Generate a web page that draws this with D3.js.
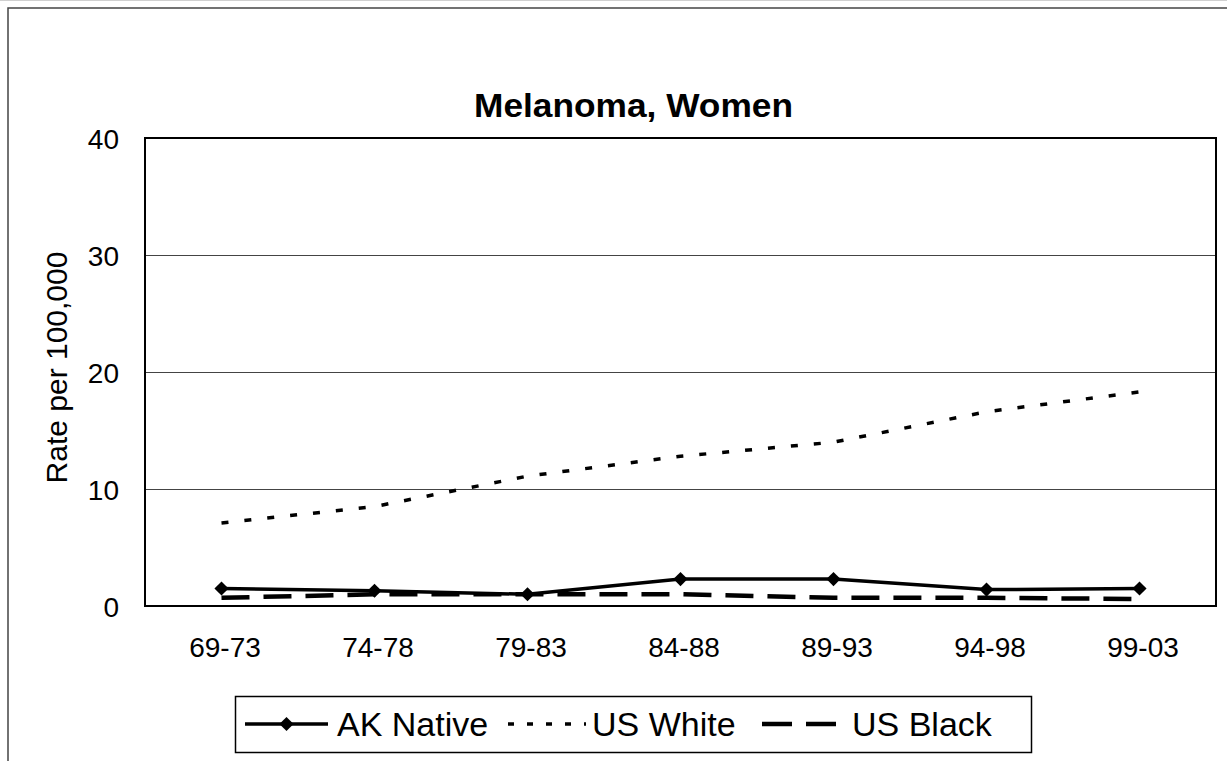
<!DOCTYPE html>
<html>
<head>
<meta charset="utf-8">
<script src="https://cdn.jsdelivr.net/npm/d3@7"></script>
<style>
  html, body { margin: 0; padding: 0; background: #fff; }
  svg { display: block; font-family: "Liberation Sans", Arial, sans-serif; }
</style>
</head>
<body>
<svg id="chart" width="1227" height="761"></svg>
<script>
const categories = ["69-73", "74-78", "79-83", "84-88", "89-93", "94-98", "99-03"];
const akNative = [1.5, 1.3, 1.0, 2.3, 2.3, 1.4, 1.5];
const usWhite = [7.1, 8.5, 11.1, 12.8, 14.0, 16.6, 18.3];
const usBlack = [0.7, 1.0, 1.0, 1.0, 0.7, 0.7, 0.6];
const yTicks = [0, 10, 20, 30, 40];
const seriesNames = ["AK Native", "US White", "US Black"];
const titleText = "Melanoma, Women";
const yLabelText = "Rate per 100,000";

const svg = d3.select("#chart");

// outer frame
svg.append("line").attr("x1", 0).attr("x2", 1227).attr("y1", 0.5).attr("y2", 0.5)
  .attr("stroke", "#d0d0d0").attr("stroke-width", 1);
svg.append("rect").attr("x", 8).attr("y", 8).attr("width", 1300).attr("height", 800)
  .attr("fill", "#fff").attr("stroke", "#444").attr("stroke-width", 1.5);

const plot = { left: 145, right: 1216, top: 138, bottom: 606 };

const x = d3.scalePoint().domain(categories).range([plot.left, plot.right]).padding(0.5);
const y = d3.scaleLinear().domain([0, 40]).range([plot.bottom, plot.top]);

// gridlines
svg.append("g").selectAll("line").data(yTicks.filter(d => d > 0 && d < 40)).join("line")
  .attr("x1", plot.left).attr("x2", plot.right)
  .attr("y1", d => Math.round(y(d)) + 0.5).attr("y2", d => Math.round(y(d)) + 0.5)
  .attr("stroke", "#444").attr("stroke-width", 1);

// plot border
svg.append("rect").attr("x", plot.left).attr("y", plot.top)
  .attr("width", plot.right - plot.left).attr("height", plot.bottom - plot.top)
  .attr("fill", "none").attr("stroke", "#000").attr("stroke-width", 2);

// y axis
const yAxis = svg.append("g").attr("transform", `translate(${plot.left},0)`)
  .call(d3.axisLeft(y).tickValues(yTicks).tickSize(0).tickPadding(26));
yAxis.select(".domain").remove();
yAxis.selectAll("text").attr("font-size", 28).attr("fill", "#000")
  .attr("font-family", "Liberation Sans, Arial, sans-serif").attr("dy", "0.36em");

// x axis
const xAxis = svg.append("g").attr("transform", `translate(0,${plot.bottom})`)
  .call(d3.axisBottom(x).tickSize(0).tickPadding(31));
xAxis.select(".domain").remove();
xAxis.selectAll("text").attr("font-size", 28).attr("fill", "#000").attr("dx", 3)
  .attr("font-family", "Liberation Sans, Arial, sans-serif");

// title
svg.append("text").attr("x", 633.5).attr("y", 117).attr("text-anchor", "middle")
  .attr("font-size", 33).attr("font-weight", "bold")
  .attr("textLength", 319).attr("lengthAdjust", "spacingAndGlyphs").text(titleText);

// y label
svg.append("text").attr("transform", "translate(67,367.5) rotate(-90)")
  .attr("text-anchor", "middle").attr("font-size", 30).text(yLabelText);

const line = d3.line().x((d, i) => x(categories[i])).y(d => y(d));

const styles = [
  { dash: null, width: 3.5 },
  { dash: "7,16", width: 3.5 },
  { dash: "28,14", width: 4.5 }
];
const data = [akNative, usWhite, usBlack];

[2, 1, 0].forEach(k => {
  svg.append("path").datum(data[k]).attr("d", line)
    .attr("fill", "none").attr("stroke", "#000")
    .attr("stroke-width", styles[k].width)
    .attr("stroke-dasharray", styles[k].dash);
});

const diamond = d3.symbol().type(d3.symbolSquare).size(100);
svg.append("g").selectAll("path").data(akNative).join("path")
  .attr("d", diamond)
  .attr("transform", (d, i) => `translate(${x(categories[i])},${y(d)}) rotate(45)`)
  .attr("fill", "#000");

// legend
const lg = svg.append("g");
lg.append("rect").attr("x", 235.5).attr("y", 696.5).attr("width", 796).attr("height", 56)
  .attr("fill", "#fff").attr("stroke", "#000").attr("stroke-width", 1.5);
const legendItems = [
  { sx1: 245, sx2: 328, tx: 337 },
  { sx1: 508, sx2: 586, tx: 592 },
  { sx1: 762, sx2: 842, tx: 852 }
];
const ly = 724;
legendItems.forEach((it, k) => {
  lg.append("line").attr("x1", it.sx1).attr("x2", it.sx2).attr("y1", ly).attr("y2", ly)
    .attr("stroke", "#000").attr("stroke-width", styles[k].width)
    .attr("stroke-dasharray", k === 1 ? "6,13" : (k === 2 ? "30,14" : null));
  if (k === 0) {
    lg.append("path").attr("d", diamond)
      .attr("transform", `translate(${(it.sx1 + it.sx2) / 2},${ly}) rotate(45)`).attr("fill", "#000");
  }
  lg.append("text").attr("x", it.tx).attr("y", 736).attr("font-size", 34).text(seriesNames[k]);
});
</script>
</body>
</html>
